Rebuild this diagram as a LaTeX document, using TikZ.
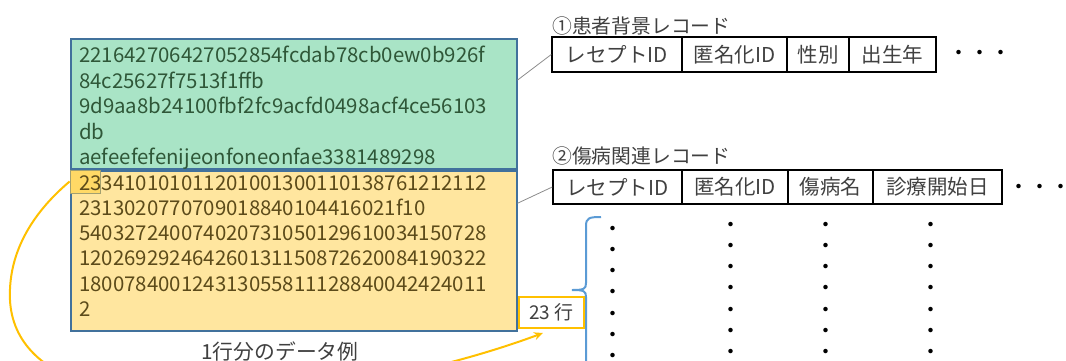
\documentclass[tikz,border=0pt]{standalone}
\usepackage{fontspec}
\setmainfont{Noto Sans CJK JP}
\usetikzlibrary{calc,arrows.meta}
\definecolor{boxline}{HTML}{41719C}
\definecolor{mint}{HTML}{A9E4C6}
\definecolor{minttext}{HTML}{2F5738}
\definecolor{gold}{HTML}{FFE69F}
\definecolor{goldtext}{HTML}{5C4B1A}
\definecolor{hlfill}{HTML}{FFD966}
\definecolor{hlline}{HTML}{A3A070}
\definecolor{orangeline}{HTML}{FFC000}
\definecolor{bracecol}{HTML}{5B9BD5}
\definecolor{darktext}{HTML}{404040}
\tikzset{
  databox/.style={draw=boxline, line width=1.5pt, inner sep=0pt, anchor=north west},
  dataline/.style={anchor=base west, inner sep=0pt, font=\fontsize{20.4}{25}\selectfont},
  recbox/.style={draw=black, line width=1.5pt, inner sep=0pt, text=darktext, font=\fontsize{20.5}{24}\selectfont},
  reclabel/.style={anchor=west, inner sep=0pt, text=darktext, font=\fontsize{19.8}{24}\selectfont},
  dotcol/.style={anchor=base, inner sep=0pt, font=\fontsize{21}{21}\selectfont},
  linkline/.style={draw=gray!90, line width=0.8pt},
  orangecurve/.style={draw=orangeline, line width=2pt, -{Stealth[length=9pt,width=8pt]}},
}
\begin{document}
\begin{tikzpicture}[x=1pt,y=-1pt]
\useasboundingbox (0,0) rectangle (1066,360);
\clip (0,0) rectangle (1066,360);

% data boxes
\node[databox, fill=mint, minimum width=446pt, minimum height=130pt] (green) at (70,38) {};
\node[databox, fill=gold, minimum width=446pt, minimum height=160pt] (yellow) at (70,170) {};
\node[draw=hlline, line width=0.8pt, fill=hlfill, minimum width=30pt, minimum height=23pt, inner sep=0pt] (hl) at (85,181.5) {};

% green lines
\foreach \t [count=\i from 0] in {221642706427052854fcdab78cb0ew0b926f, 84c25627f7513f1ffb, 9d9aa8b24100fbf2fc9acfd0498acf4ce56103, db, aefeefefenijeonfoneonfae3381489298}
  \node[dataline, text=minttext] (g\i) at (79, 62.5+25.5*\i) {\t};

% yellow lines
\foreach \t [count=\i from 0] in {233410101011201001300110138761212112, 2313020770709018840104416021f10, 540327240074020731050129610034150728, 120269292464260131150872620084190322, 180078400124313055811128840042424011, 2}
  \node[dataline, text=goldtext] (y\i) at (79, 190+25.3*\i) {\t};

% record 1
\node[reclabel] (lab1) at (552,26) {①患者背景レコード};
\node[recbox, minimum width=130pt, minimum height=35pt] (r1a) at (617,54.5) {レセプトID};
\node[recbox, minimum width=105pt, minimum height=35pt] (r1b) at (734.5,54.5) {匿名化ID};
\node[recbox, minimum width=62pt, minimum height=35pt] (r1c) at (818,54.5) {性別};
\node[recbox, minimum width=87pt, minimum height=35pt] (r1d) at (892.5,54.5) {出生年};
\node[inner sep=0pt, font=\fontsize{21}{24}\selectfont] (dots1) at (980,55) {・・・};

% record 2
\node[reclabel] (lab2) at (552,156) {②傷病関連レコード};
\node[recbox, minimum width=129pt, minimum height=34pt] (r2a) at (617.5,187) {レセプトID};
\node[recbox, minimum width=106pt, minimum height=34pt] (r2b) at (735,187) {匿名化ID};
\node[recbox, minimum width=85pt, minimum height=34pt] (r2c) at (830.5,187) {傷病名};
\node[recbox, minimum width=129pt, minimum height=34pt] (r2d) at (937.5,187) {診療開始日};
\node[inner sep=0pt, font=\fontsize{21}{24}\selectfont] (dots2) at (1040,189) {・・・};

% links
\draw[linkline] ($(green.north east)!0.32!(green.south east)$) -- (r1a.west);
\draw[linkline] ($(yellow.north east)!0.206!(yellow.south east)$) -- (r2a.west);

% vertical dot columns
\foreach \r in {0,...,6} {
  \node[dotcol] (da\r) at (613, 236+21.3*\r) {・};
  \node[dotcol] (db\r) at (731, 232+21.3*\r) {・};
  \node[dotcol] (dc\r) at (826, 232+21.3*\r) {・};
  \node[dotcol] (dd\r) at (931, 232+21.3*\r) {・};
}

% brace
\draw[bracecol, line width=2pt] (601,217) .. controls (589,217) and (586,218) .. (586,226) -- (586,283)
  .. controls (586,289) and (584,290) .. (572,290)
  .. controls (584,290) and (586,291) .. (586,297) -- (586,370);

% 23 rows box
\node[draw=orangeline, line width=2pt, fill=white, minimum width=65pt, minimum height=31pt, inner sep=0pt, text=darktext, font=\fontsize{19}{22}\selectfont] (rows) at (551.5,312.5) {23 行};

% caption
\node[inner sep=0pt, text=darktext, font=\fontsize{20.8}{24}\selectfont] (cap) at (280,352) {1行分のデータ例};

% orange curve
\coordinate (tip) at ([shift={(-8.5pt,-4pt)}]rows.south);
\draw[orangecurve] (hl.west) .. controls (30,215) and (8,255) .. (10,300)
  .. controls (12,340) and (40,375) .. (110,390)
  .. controls (260,410) and (430,375) .. (tip);
\end{tikzpicture}
\end{document}
